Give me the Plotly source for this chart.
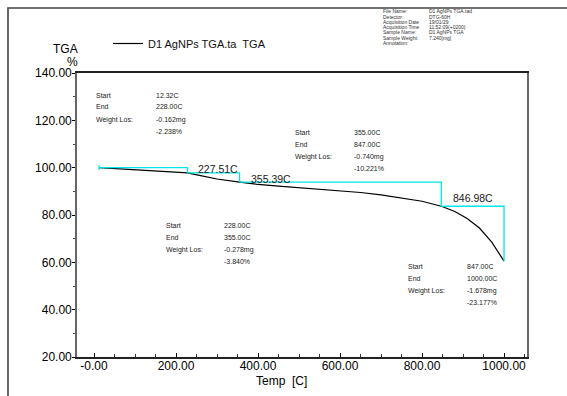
import plotly.graph_objects as go

# TGA curve of the D1 AgNPs sample (temperature in C, remaining weight in %)
temp = [12.32, 50, 100, 150, 200, 228, 260, 300, 355, 400, 450, 500, 550, 600,
        650, 700, 750, 800, 847, 880, 910, 940, 970, 1000]
weight = [100.0, 99.6, 99.1, 98.7, 98.2, 97.76, 96.6, 95.2, 93.92, 92.9, 92.2,
          91.6, 91.0, 90.3, 89.5, 88.5, 87.3, 85.8, 83.70, 81.5, 78.5, 74.5,
          68.5, 60.52]

# Stepwise weight-loss analysis
step_start = [12.32, 228.00, 355.00, 847.00]
step_end = [228.00, 355.00, 847.00, 1000.00]
loss_mg = [-0.162, -0.278, -0.740, -1.678]
loss_pct = [-2.238, -3.840, -10.221, -23.177]
start_level = 100.0

# Peak temperatures marked on the curve
peak_labels = ["227.51C", "355.39C", "846.98C"]

x_ticks = [0, 200, 400, 600, 800, 1000]
x_ticktext = ["-0.00", "200.00", "400.00", "600.00", "800.00", "1000.00"]

header_labels = ["File Name:", "Detector:", "Acquisition Date", "Acquisition Time",
                 "Sample Name:", "Sample Weight:", "Annotation:"]
header_values = ["D1 AgNPs TGA.tad", "DTG-60H", "19/01/29", "11:52:09(+0200)",
                 "D1 AgNPs TGA", "7.240[mg]", ""]

W, H = 567, 396
L, R, T, B = 77, 527, 73, 357
FONT = "Liberation Sans, Arial, sans-serif"
CYAN = "#00E6E6"


def paper(px, py):
    return (px - L) / (R - L), (B - py) / (B - T)


fig = go.Figure()

fig.add_trace(go.Scatter(
    x=temp, y=weight, mode="lines", name="D1 AgNPs TGA.ta  TGA",
    line=dict(color="black", width=1.2), showlegend=True,
))

# Step lines: horizontal at the start level, then down to the end level
level = start_level
for i, (s, e) in enumerate(zip(step_start, step_end)):
    nxt = level + loss_pct[i]
    fig.add_trace(go.Scatter(
        x=[s, e, e], y=[level, level, nxt], mode="lines",
        line=dict(color=CYAN, width=1.3), showlegend=False, hoverinfo="skip",
    ))
    level = nxt
fig.add_trace(go.Scatter(
    x=[step_start[0], step_start[0]], y=[start_level + 1.0, start_level - 1.0],
    mode="lines", line=dict(color=CYAN, width=1.3), showlegend=False,
    hoverinfo="skip",
))

ann = []


def text(px, py, s, size, color="#222", anchor="left"):
    x, y = paper(px, py)
    ann.append(dict(x=x, y=y, xref="paper", yref="paper", text=s, showarrow=False,
                    xanchor=anchor, yanchor="middle",
                    font=dict(family=FONT, size=size, color=color)))


# Step result blocks (one per analysed step)
block_pos = [(94, 95), (164, 225), (293, 132), (406, 266)]
block_val_dx = [60, 58, 59, 59]
for i, (bx, by) in enumerate(block_pos):
    vx = bx + block_val_dx[i]
    text(bx, by, "Start", 7)
    text(vx, by, f"{step_start[i]:.2f}C", 7)
    text(bx, by + 12, "End", 7)
    text(vx, by + 12, f"{step_end[i]:.2f}C", 7)
    text(bx, by + 25, "Weight Los:", 7)
    text(vx, by + 25, f"{loss_mg[i]:.3f}mg", 7)
    text(vx, by + 36, f"{loss_pct[i]:.3f}%", 7)

# Peak temperature labels
for (px, py), s in zip([(196, 169), (249, 178.5), (451, 197.5)], peak_labels):
    text(px, py, s, 10.5, color="#222")

# Header information
for i, (lab, val) in enumerate(zip(header_labels, header_values)):
    y = 11.5 + i * 5.2
    text(381, y, lab, 5, color="#333")
    if val:
        text(427, y, val, 5, color="#333")

# Axis titles
text(65, 49, "TGA", 12, color="black", anchor="center")
text(72, 62, "%", 12, color="black", anchor="center")
text(281, 381, "Temp  [C]", 12, color="black", anchor="center")

fig.update_layout(
    width=W, height=H,
    margin=dict(l=L, r=W - R, t=T, b=H - B),
    paper_bgcolor="white", plot_bgcolor="white",
    font=dict(family=FONT, size=12, color="black"),
    annotations=ann,
    legend=dict(x=paper(108, 0)[0], y=paper(0, 29)[1], xanchor="left", yanchor="top",
                bgcolor="rgba(0,0,0,0)", borderwidth=0,
                font=dict(family=FONT, size=11, color="#111"),
                itemwidth=30, tracegroupgap=0),
    shapes=[dict(type="rect", xref="paper", yref="paper",
                 x0=paper(8, 0)[0], x1=paper(620, 0)[0],
                 y0=paper(0, 440)[1], y1=paper(0, 8)[1],
                 line=dict(color="#444", width=1.6), layer="below")],
    xaxis=dict(range=[-41.5, 1056], tickmode="array", tickvals=x_ticks,
               ticktext=x_ticktext, ticks="inside", ticklen=4, tickcolor="black",
               ticklabelstandoff=-3,
               showgrid=False, zeroline=False, showline=True, linecolor="#222",
               linewidth=1.6, mirror=True,
               minor=dict(dtick=50, tick0=0, ticks="inside", ticklen=3,
                          tickcolor="#333", showgrid=False),
               tickfont=dict(family=FONT, size=12, color="black")),
    yaxis=dict(range=[20, 140], tickmode="linear", tick0=20, dtick=20,
               tickformat=".2f", ticks="outside", ticklen=3, tickcolor="black",
               ticklabelstandoff=-2,
               showgrid=False, zeroline=False, showline=True, linecolor="#666",
               linewidth=1.6, mirror=True,
               minor=dict(dtick=10, tick0=0, ticks="outside", ticklen=2,
                          tickcolor="#444", showgrid=False),
               tickfont=dict(family=FONT, size=12, color="black")),
)

fig.write_html("out.html")
